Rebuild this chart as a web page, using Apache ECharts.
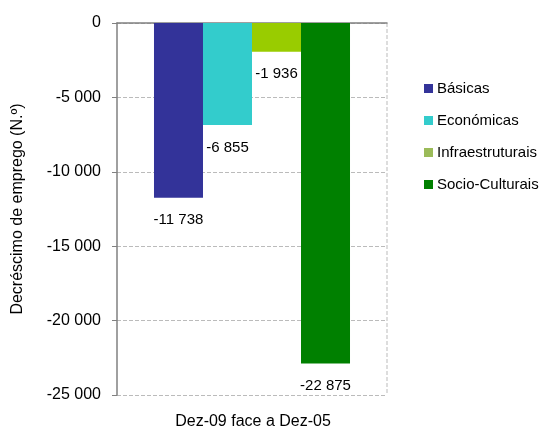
<!DOCTYPE html>
<html><head><meta charset="utf-8">
<script src="https://cdn.jsdelivr.net/npm/echarts@6/dist/echarts.min.js"></script>
<style>html,body{margin:0;padding:0;background:#fff}#c{width:547px;height:428px}</style>
</head><body><div id="c"></div>
<script>
var categories = ['Dez-09 face a Dez-05'];
var seriesNames = ['Básicas', 'Económicas', 'Infraestruturais', 'Socio-Culturais'];
var basicas = [-11738];
var economicas = [-6855];
var infra = [-1936];
var socio = [-22875];
var yTicks = [0, -5000, -10000, -15000, -20000, -25000];

var colors = ['#333399', '#33CCCC', '#99CC00', '#008000'];
var legendColors = ['#333399', '#33CCCC', '#9BBB59', '#008000'];
var values = [basicas, economicas, infra, socio];

function fmt(v) {
  var s = Math.abs(v).toString().replace(/\B(?=(\d{3})+(?!\d))/g, ' ');
  return (v < 0 ? '-' : '') + s;
}
var font = 'Liberation Sans, Arial, sans-serif';
var chart = echarts.init(document.getElementById('c'));
chart.setOption({
  animation: false,
  textStyle: {fontFamily: font},
  grid: {left: 117, right: 160, top: 23, bottom: 33, containLabel: false},
  legend: {
    orient: 'vertical', left: 424, top: 81, padding: 0, itemGap: 17,
    itemWidth: 9, itemHeight: 9, icon: 'rect',
    textStyle: {fontFamily: font, fontSize: 15, color: '#000', padding: [0, 0, 0, -1]},
    data: seriesNames.map(function (n, i) { return {name: n, itemStyle: {color: legendColors[i]}}; })
  },
  xAxis: {
    type: 'category', data: categories, position: 'top',
    axisLine: {show: true, lineStyle: {color: '#808080', width: 1.5}},
    axisTick: {show: false}, axisLabel: {show: false}
  },
  yAxis: {
    type: 'value', min: -25000, max: 0, interval: 5000,
    name: 'Decréscimo de emprego (N.º)', nameLocation: 'middle', nameGap: 91,
    nameTextStyle: {fontFamily: font, fontSize: 16, color: '#000'},
    axisLine: {show: true, lineStyle: {color: '#808080', width: 1.5}},
    axisTick: {show: true, length: 5, lineStyle: {color: '#808080'}},
    axisLabel: {fontFamily: font, fontSize: 16, color: '#000', margin: 16, formatter: fmt},
    splitLine: {show: true, lineStyle: {color: '#bbbbbb', type: [4, 2]}}
  },
  graphic: [
    {type: 'line', shape: {x1: 387, y1: 23, x2: 387, y2: 395}, style: {stroke: '#bbbbbb', lineDash: [4, 2], lineWidth: 1}},
    {type: 'text', style: {text: categories[0], x: 253, y: 422, fontFamily: font, fontSize: 16, fill: '#000', textAlign: 'center', textVerticalAlign: 'middle'}}
  ],
  series: seriesNames.map(function (n, i) {
    return {
      name: n, type: 'bar', data: values[i],
      barGap: '0%', barCategoryGap: '27.4%',
      itemStyle: {color: colors[i]},
      label: {show: true, position: 'bottom', distance: 15, fontFamily: font, fontSize: 15, color: '#000', formatter: function (p) { return fmt(p.value); }}
    };
  })
});
</script></body></html>
